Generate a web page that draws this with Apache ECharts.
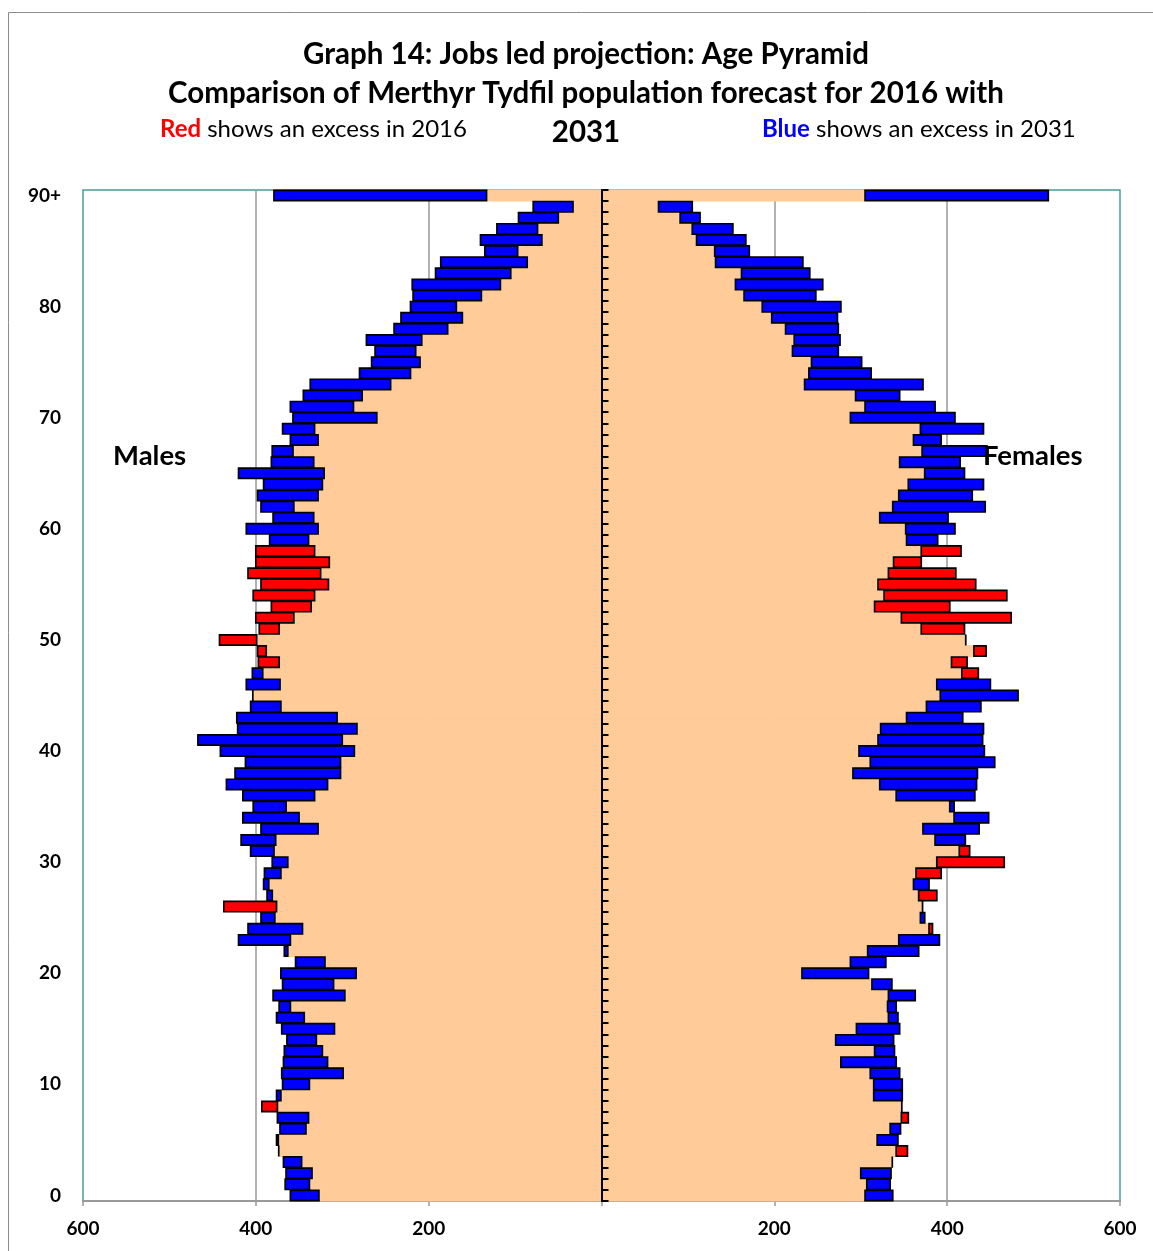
<!DOCTYPE html>
<html>
<head>
<meta charset="utf-8">
<title>Graph 14: Jobs led projection: Age Pyramid</title>
<script src="https://cdn.jsdelivr.net/npm/echarts@6/dist/echarts.min.js"></script>
<style>
  html, body { margin: 0; padding: 0; background: #fff; }
  #chart { width: 1153px; height: 1251px; }
</style>
</head>
<body>
<div id="chart"></div>
<script>
// ages 0..89 and 90+
const ages = Array.from({ length: 90 }, (_, i) => String(i)).concat('90+')
const ageTickLabels = ['0', '10', '20', '30', '40', '50', '60', '70', '80', '90+']

// Merthyr Tydfil, jobs led projection, population by single year of age
const males2016 = [
  326, 337, 334, 346, 373, 377, 341, 338, 394, 370,
  337, 298, 316, 322, 329, 308, 343, 359, 296, 309,
  283, 319, 362, 359, 345, 377, 438, 380, 384, 370,
  362, 378, 376, 327, 349, 364, 331, 316, 301, 301,
  285, 299, 282, 305, 370, 403, 371, 391, 398, 399,
  443, 397, 401, 383, 404, 395, 410, 401, 401, 338,
  327, 332, 355, 327, 322, 320, 332, 356, 327, 331,
  259, 286, 276, 243, 220, 209, 214, 207, 177, 160,
  167, 138, 116, 104, 85, 96, 68, 73, 49, 32,
  132
]
const males2031 = [
  361, 367, 366, 369, 374, 373, 373, 376, 374, 377,
  370, 371, 369, 368, 365, 371, 377, 374, 381, 370,
  372, 355, 368, 421, 410, 395, 375, 388, 392, 391,
  382, 407, 418, 395, 416, 404, 416, 435, 425, 413,
  442, 468, 422, 423, 407, 404, 412, 405, 372, 387,
  398, 372, 355, 335, 331, 315, 324, 314, 331, 385,
  412, 381, 395, 399, 392, 421, 383, 382, 361, 370,
  358, 361, 346, 338, 281, 267, 263, 273, 241, 233,
  222, 219, 220, 193, 187, 136, 141, 122, 97, 80,
  380
]
const females2016 = [
  304, 306, 299, 336, 355, 318, 333, 356, 348, 314,
  314, 310, 276, 315, 270, 294, 331, 330, 331, 312,
  231, 287, 307, 343, 384, 368, 371, 389, 360, 394,
  467, 427, 385, 371, 407, 402, 340, 321, 290, 310,
  297, 319, 322, 352, 375, 391, 387, 437, 424, 446,
  422, 421, 475, 404, 470, 434, 411, 371, 417, 352,
  351, 321, 336, 343, 354, 373, 344, 370, 360, 368,
  287, 304, 293, 234, 239, 242, 220, 222, 212, 196,
  185, 164, 154, 161, 131, 130, 109, 104, 90, 65,
  304
]
const females2031 = [
  338, 335, 336, 337, 340, 344, 347, 346, 347, 349,
  349, 346, 342, 340, 339, 346, 344, 342, 364, 337,
  310, 330, 368, 392, 378, 375, 372, 366, 380, 363,
  387, 413, 422, 438, 449, 409, 433, 435, 436, 456,
  444, 442, 443, 419, 440, 483, 451, 416, 404, 430,
  421, 369, 346, 315, 326, 319, 331, 337, 369, 390,
  410, 402, 445, 430, 443, 421, 416, 447, 394, 443,
  410, 387, 346, 373, 313, 302, 275, 277, 275, 274,
  278, 249, 257, 242, 234, 172, 168, 153, 115, 106,
  518
]

const PEACH = '#FFCC99'
const RED = '#FF0000'
const BLUE = '#0000FF'
const FONT = 'Lato, "Open Sans", sans-serif'

// common part (peach) and the excess bar coloured by which year is bigger
function buildSide(y2016, y2031, sign) {
  const base = []
  const excess = []
  for (let i = 0; i < y2016.length; i++) {
    base.push(sign * Math.min(y2016[i], y2031[i]))
    excess.push({
      value: sign * Math.abs(y2031[i] - y2016[i]),
      itemStyle: { color: y2016[i] > y2031[i] ? RED : BLUE }
    })
  }
  return { base, excess }
}
const male = buildSide(males2016, males2031, -1)
const female = buildSide(females2016, females2031, 1)

// a touch wider than the band so neighbouring rows overlap (no hairline gaps)
const BAR_W = 12

function baseSeries(name, data) {
  return {
    name,
    type: 'bar',
    stack: 'pyramid',
    data,
    barWidth: BAR_W,
    itemStyle: { color: PEACH, borderColor: PEACH, borderWidth: 1 },
    silent: true,
    z: 2
  }
}
function excessSeries(name, data) {
  return {
    name,
    type: 'bar',
    stack: 'pyramid',
    data,
    barWidth: BAR_W,
    itemStyle: { borderColor: '#000', borderWidth: 1.7 },
    silent: true,
    z: 3
  }
}

const chart = echarts.init(document.getElementById('chart'))
chart.setOption({
  animation: false,
  textStyle: { fontFamily: FONT },
  grid: {
    left: 83,
    right: 33,
    top: 190,
    bottom: 50,
    show: true,
    borderColor: '#4a9c98',
    borderWidth: 1.5
  },
  xAxis: {
    type: 'value',
    min: -600,
    max: 600,
    interval: 200,
    axisLine: { show: true, onZero: false, lineStyle: { color: '#999', width: 2 } },
    axisTick: { show: true, length: 5, lineStyle: { color: '#999', width: 1.5 } },
    splitLine: {
      show: true,
      showMinLine: false,
      showMaxLine: false,
      lineStyle: { color: '#999', width: 1.5 }
    },
    axisLabel: {
      color: '#000',
      fontWeight: 'bold',
      fontSize: 19,
      margin: 18,
      fontFamily: FONT,
      formatter: v => (v === 0 ? '' : String(Math.abs(v)))
    }
  },
  yAxis: [
    {
      type: 'category',
      data: ages,
      position: 'left',
      axisLine: { show: false, onZero: false },
      axisTick: { show: false },
      axisLabel: {
        color: '#000',
        fontWeight: 'bold',
        fontSize: 19,
        margin: 22,
        fontFamily: FONT,
        interval: 0,
        formatter: v => (ageTickLabels.includes(v) ? v : '')
      }
    },
    {
      type: 'category',
      data: ages,
      z: 10,
      axisLine: { show: true, onZero: true, lineStyle: { color: '#000', width: 2 } },
      axisTick: { show: true, interval: 0, length: 7, lineStyle: { color: '#000', width: 2 } },
      axisLabel: { show: false }
    }
  ],
  series: [
    baseSeries('Males common', male.base),
    excessSeries('Males excess', male.excess),
    baseSeries('Females common', female.base),
    excessSeries('Females excess', female.excess)
  ],
  graphic: [
    {
      type: 'rect',
      shape: { x: 8.5, y: 12.5, width: 1200, height: 1300 },
      style: { fill: 'none', stroke: '#8c8c8c', lineWidth: 1 },
      silent: true
    },
    {
      type: 'text', x: 586, y: 54, z: 10,
      style: { text: 'Graph 14: Jobs led projection: Age Pyramid', fontFamily: FONT, fontWeight: 'bold', fontSize: 29.5, fill: '#000', align: 'center', verticalAlign: 'middle' }
    },
    {
      type: 'text', x: 586, y: 93, z: 10,
      style: { text: 'Comparison of Merthyr Tydfil population forecast for 2016 with', fontFamily: FONT, fontWeight: 'bold', fontSize: 29.5, fill: '#000', align: 'center', verticalAlign: 'middle' }
    },
    {
      type: 'text', x: 586, y: 132, z: 10,
      style: { text: '2031', fontFamily: FONT, fontWeight: 'bold', fontSize: 29.5, fill: '#000', align: 'center', verticalAlign: 'middle' }
    },
    {
      type: 'text', x: 160, y: 129, z: 10,
      style: {
        text: '{r|Red} shows an excess in 2016',
        fontFamily: FONT, fontSize: 24, fill: '#000', align: 'left', verticalAlign: 'middle',
        rich: { r: { fontFamily: FONT, fontSize: 24, fontWeight: 'bold', fill: RED } }
      }
    },
    {
      type: 'text', x: 762, y: 129, z: 10,
      style: {
        text: '{b|Blue} shows an excess in 2031',
        fontFamily: FONT, fontSize: 24, fill: '#000', align: 'left', verticalAlign: 'middle',
        rich: { b: { fontFamily: FONT, fontSize: 24, fontWeight: 'bold', fill: BLUE } }
      }
    },
    {
      type: 'text', x: 113, y: 456, z: 10,
      style: { text: 'Males', fontFamily: FONT, fontWeight: 'bold', fontSize: 27.5, fill: '#000', align: 'left', verticalAlign: 'middle' }
    },
    {
      type: 'text', x: 983, y: 456, z: 10,
      style: { text: 'Females', fontFamily: FONT, fontWeight: 'bold', fontSize: 27.5, fill: '#000', align: 'left', verticalAlign: 'middle' }
    }
  ]
})
</script>
</body>
</html>
